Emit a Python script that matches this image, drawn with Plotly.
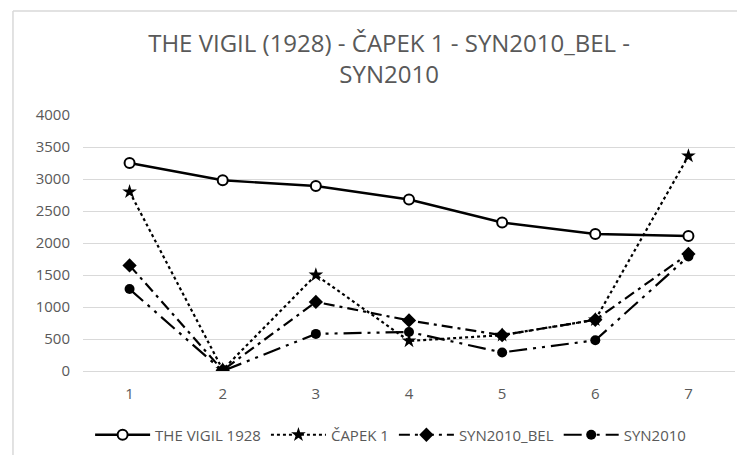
import plotly.graph_objects as go

categories = ["1", "2", "3", "4", "5", "6", "7"]
vigil = [3250, 2980, 2890, 2680, 2320, 2140, 2110]
capek = [2800, 20, 1500, 470, 560, 800, 3360]
syn_bel = [1650, 10, 1080, 790, 560, 800, 1830]
syn = [1280, 0, 580, 610, 290, 480, 1790]
yticks = [0, 500, 1000, 1500, 2000, 2500, 3000, 3500, 4000]

fig = go.Figure()
fig.add_trace(go.Scatter(x=categories, y=vigil, name="THE VIGIL 1928", mode="lines+markers",
                         line=dict(color="black", width=2.4, dash="solid"),
                         marker=dict(symbol="circle", size=10, color="white", line=dict(color="black", width=2))))
fig.add_trace(go.Scatter(x=categories, y=capek, name="ČAPEK 1", mode="lines+markers",
                         line=dict(color="black", width=2.2, dash="dot"),
                         marker=dict(symbol="star", size=11, color="black")))
fig.add_trace(go.Scatter(x=categories, y=syn_bel, name="SYN2010_BEL", mode="lines+markers",
                         line=dict(color="black", width=2.2, dash="11px,5px,3px,5px"),
                         marker=dict(symbol="diamond", size=11, color="black")))
fig.add_trace(go.Scatter(x=categories, y=syn, name="SYN2010", mode="lines+markers",
                         line=dict(color="black", width=2.2, dash="18px,6px,3px,6px,3px,6px"),
                         marker=dict(symbol="circle", size=10, color="black")))

font_family = "Open Sans, sans-serif"
fig.update_layout(
    width=737, height=455,
    paper_bgcolor="white", plot_bgcolor="white",
    margin=dict(l=83, r=2, t=115, b=84),
    title=dict(text="THE VIGIL (1928) - ČAPEK 1 - SYN2010_BEL -<br>SYN2010",
               x=0.528, xref="container", xanchor="center",
               y=1 - 52 / 455, yref="container", yanchor="middle",
               font=dict(family=font_family, size=24, color="#595959")),
    font=dict(family=font_family, color="#595959", size=15),
    xaxis=dict(type="category", range=[-0.5, 6.5], showgrid=False, showline=False, ticks="",
               ticklabelstandoff=12, tickfont=dict(size=15, color="#595959")),
    yaxis=dict(range=[0, 4000], tickvals=yticks, showgrid=True, gridcolor="#d9d9d9",
               gridwidth=1.3, zeroline=True, zerolinecolor="#d9d9d9", zerolinewidth=1.3,
               showline=False, ticks="", ticklabelstandoff=12,
               tickfont=dict(size=15, color="#595959")),
    legend=dict(orientation="h", x=0.53, xref="container", xanchor="center",
                y=1 - 435 / 455, yref="container", yanchor="middle",
                font=dict(size=15, color="#595959"), itemwidth=55),
    showlegend=True,
)
fig.add_shape(type="line", xref="paper", yref="paper", x0=-0.1074, x1=1.01, y0=1.406, y1=1.406,
              line=dict(color="#d9d9d9", width=1.5))
fig.add_shape(type="line", xref="paper", yref="paper", x0=-0.1074, x1=-0.1074, y0=1.406, y1=-0.4,
              line=dict(color="#d9d9d9", width=1.5))
fig.write_html("out.html", config={"displayModeBar": False},
               post_script="document.body.style.margin='0';")
